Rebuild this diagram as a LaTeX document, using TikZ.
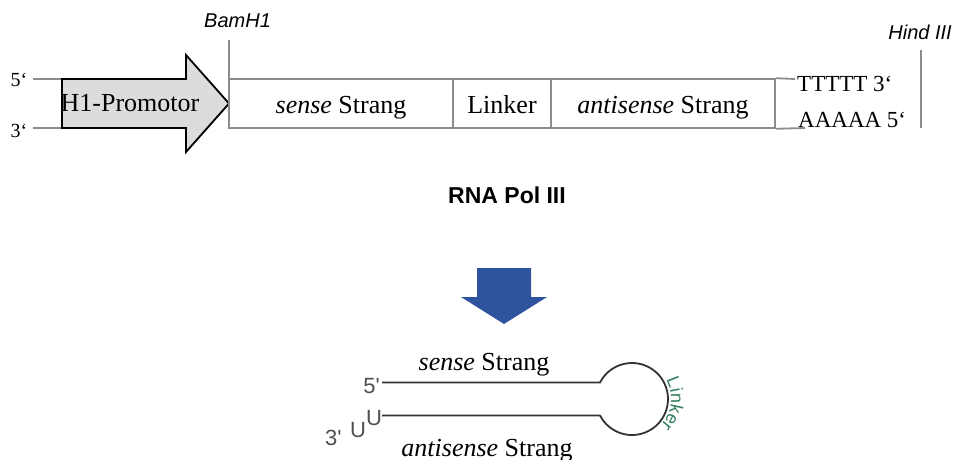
\documentclass[tikz,border=0pt]{standalone}
\usepackage{fontspec}
\setmainfont{Liberation Serif}
\setsansfont{Liberation Sans}
\usetikzlibrary{decorations.text}
\definecolor{strandgray}{RGB}{140,140,140}
\definecolor{promfill}{RGB}{220,220,220}
\definecolor{polblue}{RGB}{46,84,158}
\definecolor{linkgreen}{RGB}{52,128,92}
\definecolor{hairgray}{RGB}{51,51,51}
\definecolor{endgray}{RGB}{80,80,80}
\newcommand{\fsz}[1]{\fontsize{#1}{#1}\selectfont}
\tikzstyle{seg}=[rectangle, draw=strandgray, line width=1.6pt, minimum height=49pt, inner sep=0pt, text height=21pt, text depth=0pt, font=\fsz{26}]
\tikzstyle{strand}=[draw=strandgray, line width=1.8pt]
\tikzstyle{lbl}=[inner sep=0pt, anchor=base, font=\fsz{26}]
\tikzstyle{site}=[inner sep=0pt, font=\sffamily\itshape\fsz{20}]
\tikzstyle{nt}=[inner sep=0pt, text=endgray, font=\sffamily\fsz{22}]
\tikzstyle{hairpin}=[draw=hairgray, line width=1.8pt]
\newcommand{\seg}{\node[seg]}

\begin{document}
\begin{tikzpicture}[x=1pt, y=1pt]
\useasboundingbox (0,0) rectangle (954,459);
% expression cassette
\node[lbl, font=\fsz{20}] (p5) at (19,372) {5‘};
\node[lbl, font=\fsz{20}] (p3) at (19,322) {3‘};
\coordinate (t5) at (33,380);
\coordinate (t3) at (33,331);
\coordinate (pa) at (62,380);
\coordinate (pb) at (62,331);
\draw[strand] (t5) -- (pa);
\draw[strand] (t3) -- (pb);
\draw[line width=1.8pt, fill=promfill, line join=miter]
  (pa) -- (186,380) -- (186,404) -- (229,355.5) -- (186,307) -- (186,331) -- (pb) -- cycle;
\node[lbl] (prom) at (130,348) {H1-Promotor};

\coordinate (bam) at (229,419);
\draw[strand] (bam) -- (229,331);
\node[site, anchor=base west] (bamlbl) at (204,431) {BamH1};

\seg[minimum width=224pt] (sense) at (341,355.5) {\textit{sense} Strang};
\seg[minimum width=98pt] (linker) at (502,355.5) {Linker};
\seg[minimum width=224pt] (anti) at (663,355.5) {\textit{antisense} Strang};
\coordinate (tt) at (795,380);
\coordinate (aa) at (805,331);
\draw[strand] (anti.north east) -- (tt);
\draw[strand] (anti.south east) -- (aa);
\node[lbl, anchor=base west, font=\fsz{23}] (term) at (797,367) {TTTTT 3‘};
\node[lbl, anchor=base west, font=\fsz{23}] (polya) at (798,331) {AAAAA 5‘};

\coordinate (hind) at (921,409);
\draw[strand] (hind) -- (921,331);
\node[site, anchor=base east] (hindlbl) at (952,419) {Hind III};

% transcription
\node[lbl, font=\sffamily\bfseries\fsz{23}] (pol) at (507,256) {RNA Pol III};
\fill[polblue] (477,191) -- (531,191) -- (531,162) -- (547,162) -- (504,135) -- (461,162) -- (477,162) -- cycle;

% shRNA
\coordinate (hp) at (632,60);
\coordinate (s5) at (382,76.5);
\coordinate (s3) at (382,43.5);
\draw[hairpin] (s5) -- (600,76.5) arc[start angle=152.7, end angle=-152.7, radius=36] -- (s3);
\path[decorate, decoration={text along path, text={|\sffamily\fsz{18}|L{}i{}n{}k{}e{}r}, text align=center, text color=linkgreen}]
  (hp) ++(38:39) arc[start angle=38, end angle=-52, radius=39];
\node[lbl] (hsense) at (484,89) {\textit{sense} Strang};
\node[lbl] (hanti) at (487,3) {\textit{antisense} Strang};
\node[nt, anchor=base east] (h5) at (380,66) {5\textquotesingle};
\node[nt, anchor=base west] (h3) at (325,14) {3\textquotesingle};
\node[nt, anchor=base west] (u1) at (350,22) {U};
\node[nt, anchor=base west] (u2) at (366,34) {U};
\end{tikzpicture}
\end{document}
